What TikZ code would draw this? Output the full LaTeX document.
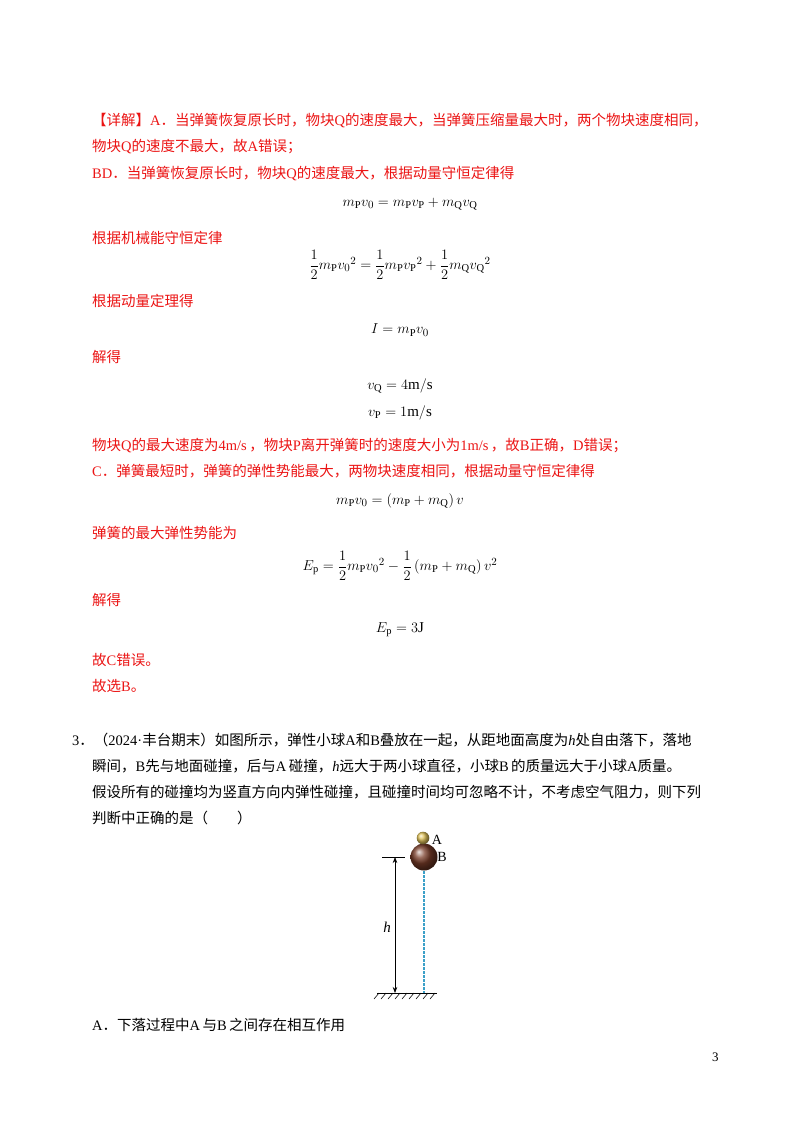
\documentclass[tikz,border=0pt]{standalone}
\usepackage{amsmath}
\usepackage{fontspec}
\setmainfont{Noto Sans CJK SC}
\setmathrm{Liberation Serif}
\newfontfamily\tm{Liberation Serif}
\usetikzlibrary{arrows.meta}
\definecolor{ans}{RGB}{235,20,20}
\definecolor{dashcol}{RGB}{60,160,200}
\tikzset{
  txt/.style={anchor=west,inner sep=0pt,font=\fontsize{14.5}{16}\selectfont},
  red/.style={txt,text=ans},
  eq/.style={inner sep=0pt,font=\fontsize{15}{17}\selectfont},
}
\begin{document}
\begin{tikzpicture}[x=1pt,y=-1pt]
\useasboundingbox (0,0) rectangle (800,1132);
\node[red] (l1) at (92,121) {【详解】{\tm A}．当弹簧恢复原长时，物块{\tm Q}的速度最大，当弹簧压缩量最大时，两个物块速度相同，};
\node[red] (l2) at (92,147) {物块{\tm Q}的速度不最大，故{\tm A}错误；};
\node[red] (l3) at (92,174) {{\tm BD}．当弹簧恢复原长时，物块{\tm Q}的速度最大，根据动量守恒定律得};
\node[eq] (e1) at (410,204) {$m_{\mathrm P}v_0=m_{\mathrm P}v_{\mathrm P}+m_{\mathrm Q}v_{\mathrm Q}$};
\node[red] (l4) at (92,238) {根据机械能守恒定律};
\node[eq] (e2) at (400,265) {$\dfrac12 m_{\mathrm P}{v_0}^2=\dfrac12 m_{\mathrm P}{v_{\mathrm P}}^2+\dfrac12 m_{\mathrm Q}{v_{\mathrm Q}}^2$};
\node[red] (l5) at (92,301) {根据动量定理得};
\node[eq] (e3) at (400,330) {$I=m_{\mathrm P}v_0$};
\node[red] (l6) at (92,357) {解得};
\node[eq] (e4) at (400,386) {$v_{\mathrm Q}=4\mathrm{m/s}$};
\node[eq] (e5) at (400,413) {$v_{\mathrm P}=1\mathrm{m/s}$};
\node[red] (l7) at (92,446) {物块{\tm Q}的最大速度为{\tm 4m/s}\,，物块{\tm P}离开弹簧时的速度大小为{\tm 1m/s}\,，故{\tm B}正确，{\tm D}错误；};
\node[red] (l8) at (92,471) {{\tm C}．弹簧最短时，弹簧的弹性势能最大，两物块速度相同，根据动量守恒定律得};
\node[eq] (e6) at (400,501) {$m_{\mathrm P}v_0=\left(m_{\mathrm P}+m_{\mathrm Q}\right)v$};
\node[red] (l9) at (92,533) {弹簧的最大弹性势能为};
\node[eq] (e7) at (400,566) {$E_{\mathrm p}=\dfrac12 m_{\mathrm P}{v_0}^2-\dfrac12\left(m_{\mathrm P}+m_{\mathrm Q}\right)v^2$};
\node[red] (l10) at (92,600) {解得};
\node[eq] (e8) at (400,630) {$E_{\mathrm p}=3\mathrm J$};
\node[red] (l11) at (92,660) {故{\tm C}错误。};
\node[red] (l12) at (92,686) {故选{\tm B}。};
\node[txt] (q1) at (72,740) {{\tm 3}．（{\tm 2024·}丰台期末）如图所示，弹性小球{\tm A}和{\tm B}叠放在一起，从距地面高度为{\tm\itshape h}处自由落下，落地};
\node[txt] (q2) at (92,766) {瞬间，{\tm B}先与地面碰撞，后与{\tm A}\,碰撞，{\tm\itshape h}远大于两小球直径，小球{\tm B}\,的质量远大于小球{\tm A}质量。};
\node[txt] (q3) at (92,792) {假设所有的碰撞均为竖直方向内弹性碰撞，且碰撞时间均可忽略不计，不考虑空气阻力，则下列};
\node[txt] (q4) at (92,818) {判断中正确的是（\qquad）};
% figure
\coordinate (gl) at (377,993); \coordinate (gr) at (437,993);
\draw[line width=0.8pt] (gl) -- (gr);
\foreach \i in {0,...,8} \draw[line width=0.6pt] (379+\i*7,993) -- ++(-5,6);
\draw[line width=0.8pt] (382,857) -- (405,857);
\coordinate (at) at (395,857); \coordinate (ab) at (395,993);
\draw[line width=0.7pt,{Stealth[length=6pt]}-{Stealth[length=6pt]}] (at) -- (ab);
\node[font=\tm\itshape\fontsize{15}{15}\selectfont] (h) at (387,927) {h};
\draw[dashcol,line width=1.2pt,dash pattern=on 2.5pt off 1.5pt] (424,871) -- (424,993);
\shade[ball color={rgb,255:red,120;green,60;blue,40}] (424,857) circle (13.5);
\shade[ball color={rgb,255:red,225;green,195;blue,90}] (423,838) circle (6.3);
\node[font=\tm\fontsize{14}{14}\selectfont,inner sep=0pt] (A) at (437,840) {A};
\node[font=\tm\fontsize{14}{14}\selectfont,inner sep=0pt] (B) at (442,857) {B};
\node[txt] (oa) at (92,1025) {{\tm A}．下落过程中{\tm A}\,与{\tm B}\,之间存在相互作用};
\node[txt,font=\tm\fontsize{13}{13}\selectfont] (pg) at (712,1057) {3};
\end{tikzpicture}
\end{document}
